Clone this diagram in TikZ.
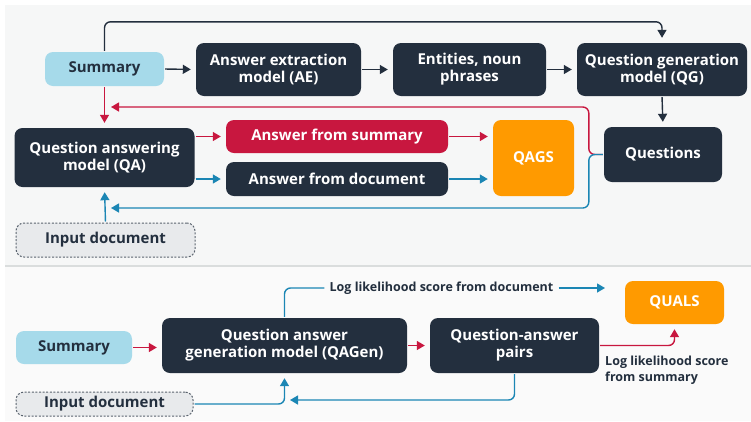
\documentclass[tikz,border=0pt]{standalone}
\usepackage{fontspec}
\setmainfont{Open Sans}
\usetikzlibrary{arrows.meta,calc}
\definecolor{ink}{HTML}{232F3E}
\definecolor{crim}{HTML}{C8173F}
\definecolor{flowblue}{HTML}{1B86B4}
\definecolor{skyfill}{HTML}{A6DAEA}
\definecolor{amber}{HTML}{FF9A00}
\definecolor{docfill}{HTML}{E8EAEC}
\definecolor{panel}{HTML}{F6F7F7}
\definecolor{rule}{HTML}{DADDDD}
\begin{document}
\begin{tikzpicture}[x=1pt,y=-1pt,
  box/.style={rectangle, rounded corners=8pt, fill=ink, text=white, align=center,
    inner sep=0pt, font=\bfseries\fontsize{15}{17}\selectfont},
  sky/.style={box, fill=skyfill, text=ink},
  docbox/.style={box, fill=docfill, text=ink, draw=ink!75, dash pattern=on 2pt off 1.6pt, line width=1pt},
  scorebox/.style={box, fill=amber, text=white},
  redbox/.style={box, fill=crim},
  link/.style={line width=1.4pt, -{Triangle[length=8pt,width=9pt]}, shorten >=5pt, shorten <=1pt, rounded corners=6pt},
  inklink/.style={link, draw=ink},
  redlink/.style={link, draw=crim},
  bluelink/.style={link, draw=flowblue},
  note/.style={font=\bfseries\fontsize{12.5}{16}\selectfont, text=ink, align=left, inner sep=2pt}]
\useasboundingbox (0,0) rectangle (751,421);
% panels
\fill[white] (0,0) rectangle (751,421);
\fill[panel] (5,5) rectangle (751,265);
\fill[panel!60] (5,267) rectangle (751,421);
\draw[rule, line width=1.2pt] (5,266) -- (751,266);

% ---------- QAGS pipeline ----------
\node[sky, minimum width=119pt, minimum height=34pt] (sumT) at (104.5,69) {Summary};
\node[box, minimum width=165pt, minimum height=53pt] (ae) at (278.5,69.5) {Answer extraction\\model (AE)};
\node[box, minimum width=153pt, minimum height=53pt] (ent) at (469.5,69.5) {Entities, noun\\phrases};
\node[box, minimum width=170pt, minimum height=53pt] (qg) at (662,69.5) {Question generation\\model (QG)};
\node[box, minimum width=118pt, minimum height=55pt] (qs) at (663,154.5) {Questions};
\node[box, minimum width=180pt, minimum height=59pt] (qa) at (104.5,157.5) {Question answering\\model (QA)};
\node[redbox, minimum width=222pt, minimum height=33pt] (afs) at (337,136.5) {Answer from summary};
\node[box, minimum width=222pt, minimum height=34pt] (afd) at (337,179) {Answer from document};
\node[scorebox, minimum width=81pt, minimum height=76pt] (qags) at (533.5,158) {QAGS};
\node[docbox, minimum width=179pt, minimum height=34pt] (inT) at (105.5,240) {Input document};

\coordinate (redjoin) at (106,107);
\coordinate (bluejoin) at (106,208);

\draw[inklink] (sumT.east) -- (ae.west);
\draw[inklink] (ae.east) -- (ent.west);
\draw[inklink] (ent.east) -- (qg.west);
\draw[inklink] (sumT.north) |- ($(qg.north)+(0,-21)$) -- (qg.north);
\draw[inklink] (qg.south) -- (qs.north);
\draw[redlink] (sumT.south) -- (sumT.south |- qa.north);
\draw[redlink] (qs.west) -- ++(-15,0) |- (redjoin);
\draw[bluelink] (qs.west) -- ++(-15,0) |- (bluejoin);
\draw[bluelink] (inT.north) -- (qa.south);
\draw[redlink] (qa.east |- afs.west) -- (afs.west);
\draw[bluelink] (qa.east |- afd.west) -- (afd.west);
\draw[redlink] (afs.east) -- (qags.west |- afs.east);
\draw[bluelink] (afd.east) -- (qags.west |- afd.east);

% ---------- QUALS pipeline ----------
\node[sky, minimum width=116pt, minimum height=33pt] (sumB) at (74,347.5) {Summary};
\node[box, minimum width=245pt, minimum height=55pt] (qagen) at (284.5,345.5) {Question answer\\generation model (QAGen)};
\node[box, minimum width=169pt, minimum height=55pt] (qap) at (514.5,345.5) {Question-answer\\pairs};
\node[scorebox, minimum width=99pt, minimum height=43pt] (quals) at (674.5,302.5) {QUALS};
\node[docbox, minimum width=177pt, minimum height=24pt] (inB) at (104.5,404) {Input document};
\node[note] (docscore) at (441.5,288) {Log likelihood score from document};
\node[note, anchor=west] (sumscore) at (603,370) {Log likelihood score\\from summary};
\coordinate (docend) at (610,288);
\coordinate (pairsjoin) at (285,400);

\draw[redlink] (sumB.east) -- (qagen.west |- sumB.east);
\draw[redlink] (qagen.east) -- (qap.west);
\draw[bluelink, -, shorten >=3pt] (qagen.north) |- (docscore.west);
\draw[bluelink, shorten <=3pt] (docscore.east) -- (docend);
\draw[redlink] (qap.east) -| (quals.south);
\draw[bluelink] (inB.east) -| (qagen.south);
\draw[bluelink] (qap.south) |- (pairsjoin);
\end{tikzpicture}
\end{document}
